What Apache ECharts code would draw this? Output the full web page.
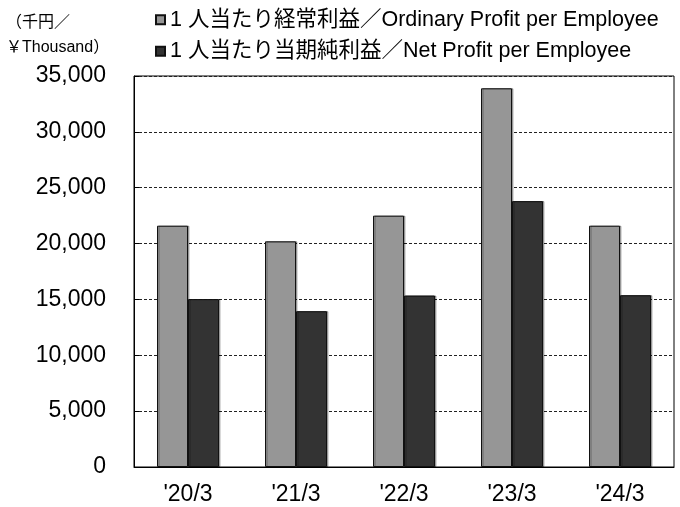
<!DOCTYPE html>
<html>
<head>
<meta charset="utf-8">
<script src="https://cdn.jsdelivr.net/npm/echarts@6/dist/echarts.min.js"></script>
<style>
  html, body { margin: 0; padding: 0; background: #fff; }
  #chart { width: 680px; height: 507px; }
</style>
</head>
<body>
<div id="chart"></div>
<script>
const categories = ["'20/3", "'21/3", "'22/3", "'23/3", "'24/3"];
const ordinaryProfit = [21600, 20200, 22500, 33900, 21600];
const netProfit = [15030, 13950, 15350, 23800, 15380];
const seriesNames = [
  '1 人当たり経常利益／Ordinary Profit per Employee',
  '1 人当たり当期純利益／Net Profit per Employee'
];
const unitLabel = '（千円／\n￥Thousand）';

const font = '"Liberation Sans", Arial, "Noto Sans CJK JP", sans-serif';

const chart = echarts.init(document.getElementById('chart'));

const barStyle = (color) => ({
  color: color,
  borderColor: '#111',
  borderWidth: 1,
  shadowColor: 'rgba(0,0,0,0.3)',
  shadowOffsetX: 1.5,
  shadowOffsetY: 0,
  shadowBlur: 0
});

chart.setOption({
  animation: false,
  backgroundColor: '#fff',
  textStyle: { fontFamily: font },
  graphic: [{
    type: 'text',
    left: 6,
    top: 10,
    style: {
      text: unitLabel,
      font: '16px ' + font,
      fill: '#000',
      lineHeight: 25
    }
  }],
  legend: {
    orient: 'vertical',
    left: 150,
    top: 4,
    itemWidth: 9,
    itemHeight: 9,
    itemGap: 10,
    icon: 'rect',
    textStyle: { fontSize: 21.5, color: '#000', fontFamily: font },
    data: seriesNames
  },
  grid: {
    left: 134,
    right: 6,
    top: 76,
    bottom: 40,
    show: true,
    borderColor: '#000',
    borderWidth: 1
  },
  xAxis: {
    type: 'category',
    data: categories,
    axisLine: { lineStyle: { color: '#000', width: 1 } },
    axisTick: { inside: true, length: 6, lineStyle: { color: '#000' } },
    axisLabel: { color: '#000', fontSize: 23, margin: 16, fontFamily: font }
  },
  yAxis: {
    type: 'value',
    min: 0,
    max: 35000,
    interval: 5000,
    axisLine: { show: true, lineStyle: { color: '#000', width: 1 } },
    axisTick: { show: true, inside: true, length: 5, lineStyle: { color: '#000' } },
    axisLabel: {
      color: '#000',
      fontSize: 23,
      margin: 28,
      fontFamily: font,
      formatter: (v) => v.toLocaleString('en-US')
    },
    splitLine: { lineStyle: { color: '#222', type: [3, 2], width: 1 } }
  },
  series: [
    {
      name: seriesNames[0],
      type: 'bar',
      data: ordinaryProfit,
      barWidth: 31,
      barGap: '0%',
      itemStyle: barStyle('#969696')
    },
    {
      name: seriesNames[1],
      type: 'bar',
      data: netProfit,
      barWidth: 31,
      barGap: '0%',
      itemStyle: barStyle('#333333')
    }
  ]
});
</script>
</body>
</html>
